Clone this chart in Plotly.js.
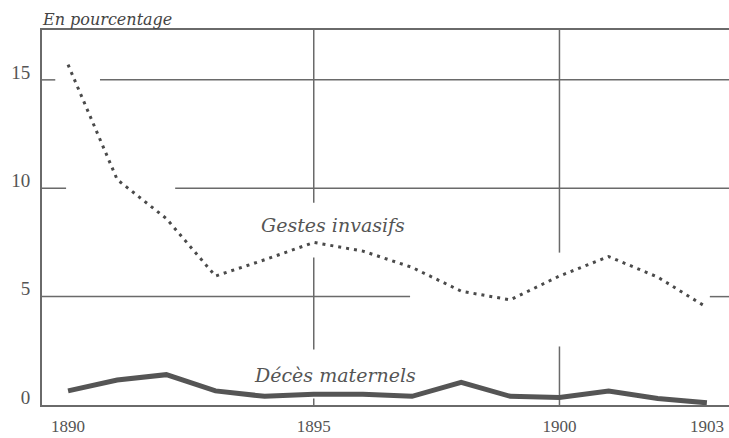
<!DOCTYPE html>
<html>
<head>
<meta charset="utf-8">
<script src="https://cdn.plot.ly/plotly-3.0.1.min.js"></script>
<style>html,body{margin:0;padding:0;background:#fff;}</style>
</head>
<body>
<div id="chart" style="width:729px;height:438px;"></div>
<script>
// Data
const years = [1890, 1891, 1892, 1893, 1894, 1895, 1896, 1897, 1898, 1899, 1900, 1901, 1902, 1903];
const gestesInvasifs = [15.7, 10.4, 8.6, 5.95, 6.7, 7.5, 7.1, 6.35, 5.25, 4.85, 5.95, 6.85, 5.9, 4.5];
const decesMaternels = [0.65, 1.15, 1.4, 0.65, 0.4, 0.5, 0.5, 0.4, 1.05, 0.4, 0.35, 0.65, 0.3, 0.1];
const xTicks = [1890, 1895, 1900, 1903];
const yTicks = [0, 5, 10, 15];
const labelGestes = "Gestes invasifs";
const labelDeces = "Décès maternels";
const yUnit = "En pourcentage";

const gridColor = "#6a6a6a";
const txtColor = "#555";

const traces = [
  {
    x: years, y: gestesInvasifs, type: "scatter", mode: "lines",
    line: {color: "#4a4a4a", width: 3, dash: "3px,5px"},
    hoverinfo: "skip", showlegend: false
  },
  {
    x: years, y: decesMaternels, type: "scatter", mode: "lines",
    line: {color: "#555", width: 5},
    hoverinfo: "skip", showlegend: false
  }
];

const X0 = 1889.47, X1 = 1903.45, YMAX = 17.3;
function hseg(y, xa, xb) {
  return {type: "line", xref: "x", yref: "y", x0: xa, x1: xb, y0: y, y1: y,
          line: {color: gridColor, width: 1.5}, layer: "below"};
}
function vseg(x, ya, yb) {
  return {type: "line", xref: "x", yref: "y", x0: x, x1: x, y0: ya, y1: yb,
          line: {color: gridColor, width: 1.5}, layer: "below"};
}
const shapes = [
  hseg(15, X0, 1889.74), hseg(15, 1890.65, X1),
  hseg(10, X0, 1889.96), hseg(10, 1892.18, X1),
  hseg(5, X0, 1896.96), hseg(5, 1903.06, X1),
  vseg(1895, 9.33, YMAX), vseg(1895, 2.56, 6.8), vseg(1895, 0, 0.3),
  vseg(1900, 7.03, YMAX), vseg(1900, 0, 2.7)
];

const layout = {
  width: 729, height: 438,
  margin: {l: 42, r: 0, t: 30, b: 33, pad: 0},
  paper_bgcolor: "#fff", plot_bgcolor: "#fff",
  showlegend: false,
  xaxis: {
    range: [X0, X1], tickvals: xTicks, ticktext: xTicks.map(String),
    showgrid: false, zeroline: false, showline: true, mirror: true,
    linecolor: gridColor, linewidth: 2, ticks: "",
    ticklabelstandoff: 5,
    tickfont: {family: "Liberation Serif", size: 17, color: txtColor}
  },
  yaxis: {
    range: [0, YMAX], tickvals: yTicks, ticktext: yTicks.map(String),
    showgrid: false, zeroline: false, showline: true,
    linecolor: gridColor, linewidth: 2, ticks: "",
    ticklabelshift: -8, ticklabelstandoff: 6,
    tickfont: {family: "Liberation Serif", size: 19, color: txtColor}
  },
  shapes: shapes,
  annotations: [
    {x: 1895.39, y: 8.32, xref: "x", yref: "y", text: "<i>" + labelGestes + "</i>",
     showarrow: false, xanchor: "center", yanchor: "middle",
     font: {family: "DejaVu Serif", size: 19, color: txtColor}},
    {x: 1895.43, y: 1.4, xref: "x", yref: "y", text: "<i>" + labelDeces + "</i>",
     showarrow: false, xanchor: "center", yanchor: "middle",
     font: {family: "DejaVu Serif", size: 19, color: txtColor}},
    {x: -0.003, y: 1.027, xref: "paper", yref: "paper", text: "<i>" + yUnit + "</i>",
     showarrow: false, xanchor: "left", yanchor: "middle",
     font: {family: "DejaVu Serif", size: 16, color: "#444"}}
  ]
};

Plotly.newPlot("chart", traces, layout, {staticPlot: true, displayModeBar: false});
</script>
</body>
</html>
